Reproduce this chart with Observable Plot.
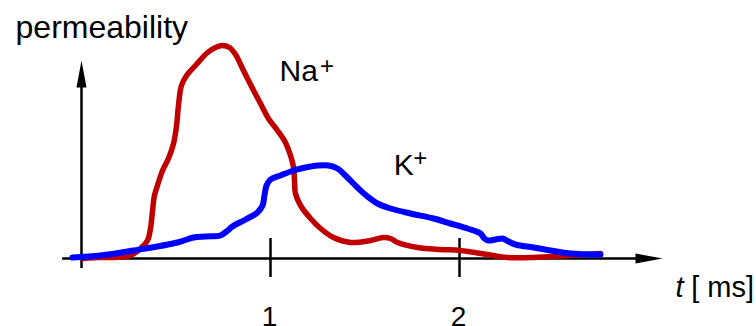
<!DOCTYPE html>
<html>
<head>
<meta charset="utf-8">
<script src="https://cdn.jsdelivr.net/npm/d3@7"></script>
<script src="https://cdn.jsdelivr.net/npm/@observablehq/plot@0.6"></script>
<style>
  html, body { margin: 0; padding: 0; background: #fff; }
  svg text { font-family: "Liberation Sans", Arial, Helvetica, sans-serif; }
</style>
</head>
<body>
<div id="chart"></div>
<script>
// time in ms
const naT = [0.011,0.085,0.180,0.259,0.312,0.349,0.365,0.376,0.386,0.402,0.429,0.460,0.487,0.503,0.513,0.529,0.556,0.603,0.667,0.709,0.746,0.783,0.815,0.857,0.905,0.947,0.989,1.037,1.079,1.106,1.122,1.127,1.132,1.159,1.212,1.265,1.333,1.423,1.529,1.598,1.635,1.672,1.778,1.899,2.005,2.148,2.254,2.392,2.571,2.746];
// Na+ permeability (arbitrary units)
const naP = [0,0.5,0.5,1.5,5,9,15,24,31.5,36.5,44,50,57.5,66.5,76.5,86.5,91.5,96.5,103,105.5,106.5,105.5,102,94,85,77.5,70,64,58,51.5,45.5,39,32.5,26.5,20,15,10.5,8,9,10.5,10,8,5.5,4.5,4,2,0.5,0.5,1.5,2.5];

const kT = [-0.048,0.101,0.275,0.508,0.593,0.656,0.735,0.767,0.799,0.868,0.931,0.958,0.968,0.979,1.000,1.053,1.122,1.185,1.249,1.307,1.354,1.407,1.460,1.513,1.566,1.635,1.741,1.862,1.952,2.042,2.111,2.132,2.153,2.190,2.228,2.259,2.296,2.392,2.481,2.587,2.746];
// K+ permeability (arbitrary units)
const kP = [0.5,1.5,4,8,10.5,11,11.5,13.5,16,19.5,23,26.5,31.5,36.5,39.5,41.5,44,45.5,46.5,46.5,45,40.5,35.5,31,27.5,25,22.5,20,17.5,15,12.5,10,9,9.5,10,8.5,7,5.5,4,2.5,2];

const xTicks = [1, 2];
const xTickLabels = ["1", "2"];

const na = naT.map((t, i) => ({t, v: naP[i]}));
const k = kT.map((t, i) => ({t, v: kP[i]}));

// axis geometry (data units)
const xAxisStart = -0.1, xAxisTip = 3.074;
const yAxisStart = -5, yAxisTip = 99;
const tickLo = -9.5, tickHi = 10;

const arrowHead = {
  draw(ctx) {
    ctx.moveTo(0, 0);
    ctx.lineTo(-27, -5);
    ctx.lineTo(-27, 5);
    ctx.closePath();
  }
};

const texts = [
  {t: -0.349, v: 110.5, text: "permeability", size: 32, style: "normal"},
  {t: 1.048, v: 89, text: "Na", size: 30, style: "normal"},
  {t: 1.652, v: 42, text: "K", size: 30, style: "normal"},
  {t: 3.143, v: -19, text: "t", size: 29, style: "italic"},
  {t: 3.226, v: -19, text: "[ ms]", size: 29, style: "normal"}
];
const sups = [
  {t: 1.262, v: 96, text: "+"},
  {t: 1.755, v: 50, text: "+"}
];

const chart = Plot.plot({
  width: 756,
  height: 326,
  marginLeft: 0, marginRight: 0, marginTop: 0, marginBottom: 0,
  x: {domain: [-81/189, 675/189], axis: null},
  y: {domain: [-34, 129], axis: null},
  marks: [
    // x axis
    Plot.ruleY([0], {x1: xAxisStart, x2: xAxisTip - 0.12, stroke: "black", strokeWidth: 2.5}),
    Plot.dot([{t: xAxisTip, v: 0}], {x: "t", y: "v", symbol: arrowHead, r: 5, fill: "black", stroke: "none"}),
    // y axis
    Plot.ruleX([0], {y1: yAxisStart, y2: yAxisTip - 10, stroke: "black", strokeWidth: 2.5}),
    Plot.dot([{t: 0, v: yAxisTip}], {x: "t", y: "v", symbol: arrowHead, r: 5, rotate: -90, fill: "black", stroke: "none"}),
    // ticks
    Plot.ruleX(xTicks, {y1: tickLo, y2: tickHi, stroke: "black", strokeWidth: 2.5}),
    Plot.text(xTicks, {x: d => d, y: -33.5, text: (d, i) => xTickLabels[i], fontSize: 28, lineAnchor: "bottom", fill: "black", dx: -1}),
    // curves
    Plot.line(na, {x: "t", y: "v", stroke: "#c00000", strokeWidth: 5.5, curve: "catmull-rom", strokeLinecap: "round", strokeLinejoin: "round"}),
    Plot.line(k, {x: "t", y: "v", stroke: "#0000ff", strokeWidth: 6, curve: "catmull-rom", strokeLinecap: "round", strokeLinejoin: "round"}),
    // labels
    ...texts.map(d => Plot.text([d], {x: "t", y: "v", text: "text", fontSize: d.size, fontStyle: d.style, textAnchor: "start", lineAnchor: "bottom", fill: "black"})),
    Plot.text(sups, {x: "t", y: "v", text: "text", fontSize: 24, textAnchor: "start", lineAnchor: "middle", fill: "black"})
  ]
});
document.getElementById("chart").appendChild(chart);
</script>
</body>
</html>
